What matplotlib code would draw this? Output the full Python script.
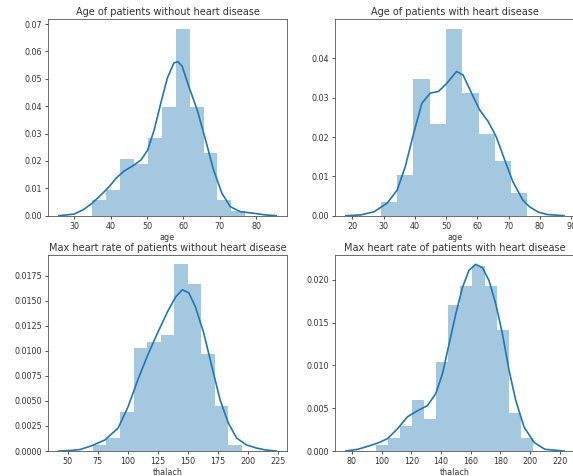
import numpy as np
import matplotlib
matplotlib.use("Agg")
import matplotlib.pyplot as plt

# histogram counts (bins spread evenly between lo and hi)
age_no_lo, age_no_hi = 35, 77
age_no_counts = [3, 5, 11, 10, 15, 21, 36, 21, 12, 3, 1]

age_yes_lo, age_yes_hi = 29, 76
age_yes_counts = [3, 9, 30, 20, 41, 27, 18, 12, 5]

hr_no_lo, hr_no_hi = 71, 195
hr_no_counts = [1, 2, 6, 16, 17, 18, 29, 26, 15, 7, 1]

hr_yes_lo, hr_yes_hi = 96, 202
hr_yes_counts = [1, 2, 4, 8, 5, 14, 23, 26, 29, 26, 19, 6, 2]

# density curves
age_no_kde_x = [25.8, 30, 32.5, 34.7, 36.5, 38.3, 40, 41.5, 43.8, 46.1, 48.4,
                50.2, 52, 53.8, 55.6, 57.4, 58.5, 59.7, 61.5, 63.8, 66.1, 68.3,
                70.6, 72.9, 75.6, 79.3, 82.5, 85.5]
age_no_kde_y = [0.0, 0.0006, 0.0022, 0.0043, 0.0065, 0.0088, 0.0112, 0.0137,
                0.0164, 0.0182, 0.0204, 0.024, 0.0314, 0.0411, 0.0503, 0.0558,
                0.0563, 0.0545, 0.0472, 0.0387, 0.0277, 0.0167, 0.0082, 0.0033,
                0.0015, 0.0009, 0.0003, 0.0]

age_yes_kde_x = [17.9, 22.6, 26.9, 31.1, 34.3, 36.9, 39.6, 42.2, 44.9, 47.5,
                 50.2, 53.3, 55.4, 58.1, 60.7, 63.4, 66, 68.7, 71.3, 74.5,
                 76.6, 79.5, 82.4, 87.7]
age_yes_kde_y = [0.0, 0.0002, 0.001, 0.0032, 0.0065, 0.0125, 0.021, 0.0286,
                 0.0312, 0.0316, 0.0337, 0.0367, 0.0358, 0.0312, 0.0269, 0.024,
                 0.0201, 0.0142, 0.0087, 0.004, 0.0023, 0.0009, 0.0003, 0.0]

hr_no_kde_x = [42.6, 52, 60.4, 70, 80.9, 92, 100.2, 108.4, 116.7, 124.9, 133.1,
               140, 145.5, 150.9, 156.4, 163.3, 170.2, 177, 183.8, 190.7, 199,
               207.2, 215, 223.7]
hr_no_kde_y = [0.0, 0.00005, 0.00015, 0.00053, 0.0011, 0.0023, 0.0044, 0.0071,
               0.0096, 0.0118, 0.0139, 0.0154, 0.0161, 0.0158, 0.0144, 0.0118,
               0.0084, 0.0051, 0.0028, 0.0013, 0.0006, 0.0003, 0.0001, 0.0]

hr_yes_kde_x = [76, 84, 92.8, 98.5, 104, 110.8, 117.5, 124.2, 130.9, 136.5, 141,
                145.5, 150, 154.5, 158.9, 163.4, 168, 172.4, 176.9, 181.4,
                185.9, 190.4, 196, 202.7, 210, 222.9]
hr_yes_kde_y = [0.0, 0.0002, 0.00066, 0.001, 0.00144, 0.0026, 0.004, 0.0047,
                0.0053, 0.0067, 0.009, 0.0125, 0.016, 0.0191, 0.0211, 0.0218,
                0.0214, 0.0199, 0.0172, 0.0137, 0.0094, 0.0059, 0.0028, 0.001,
                0.0002, 0.0]

titles = ["Age of patients without heart disease",
          "Age of patients with heart disease",
          "Max heart rate of patients without heart disease",
          "Max heart rate of patients with heart disease"]
xlabels = ["age", "age", "thalach", "thalach"]
xticks = [[30, 40, 50, 60, 70, 80],
          [20, 30, 40, 50, 60, 70, 80, 90],
          [50, 75, 100, 125, 150, 175, 200, 225],
          [80, 100, 120, 140, 160, 180, 200, 220]]

plt.rcParams.update({
    "font.size": 5.8,
    "axes.linewidth": 0.6,
    "xtick.major.size": 2.2,
    "ytick.major.size": 2.2,
    "xtick.major.width": 0.6,
    "ytick.major.width": 0.6,
    "xtick.major.pad": 2.0,
    "ytick.major.pad": 2.0,
    "text.color": "#333333",
    "xtick.color": "#333333",
    "ytick.color": "#333333",
    "axes.labelcolor": "#333333",
    "axes.edgecolor": "#555555",
})

fig = plt.figure(figsize=(5.73, 4.76), dpi=100)
positions = [[0.0838, 0.5468, 0.4171, 0.4126],
             [0.5846, 0.5468, 0.4188, 0.4126],
             [0.0838, 0.0525, 0.4171, 0.4118],
             [0.5846, 0.0525, 0.4188, 0.4118]]

panels = [
    (age_no_lo, age_no_hi, age_no_counts, age_no_kde_x, age_no_kde_y),
    (age_yes_lo, age_yes_hi, age_yes_counts, age_yes_kde_x, age_yes_kde_y),
    (hr_no_lo, hr_no_hi, hr_no_counts, hr_no_kde_x, hr_no_kde_y),
    (hr_yes_lo, hr_yes_hi, hr_yes_counts, hr_yes_kde_x, hr_yes_kde_y),
]

for i, (lo, hi, counts, kx, ky) in enumerate(panels):
    ax = fig.add_axes(positions[i])
    counts = np.array(counts, dtype=float)
    edges = np.linspace(lo, hi, len(counts) + 1)
    width = edges[1] - edges[0]
    dens = counts / (counts.sum() * width)
    ax.bar(edges[:-1], dens, width=width, align="edge",
           color="#1f77b4", alpha=0.4, linewidth=0)
    ax.plot(kx, ky, color="#1f77b4", lw=1.2, solid_joinstyle="round")
    ax.set_xticks(xticks[i])
    ax.set_title(titles[i], fontsize=7.0, pad=3)
    ax.set_xlabel(xlabels[i], labelpad=1.5)
    ax.set_ylim(0, max(dens.max(), max(ky)) * 1.05)
    span = max(kx) - min(kx)
    ax.set_xlim(min(kx) - 0.05 * span, max(kx) + 0.05 * span)

fig.savefig("out.png", dpi=100)
